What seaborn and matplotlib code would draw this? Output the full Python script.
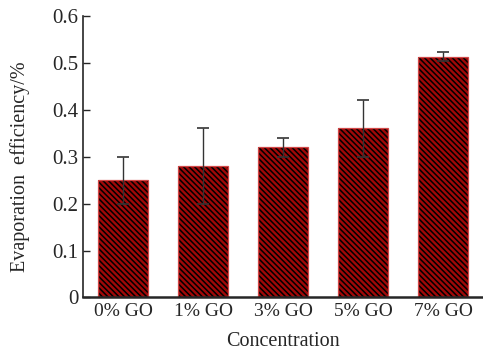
import matplotlib
matplotlib.use("Agg")
import matplotlib.pyplot as plt
import seaborn as sns
import pandas as pd

# data
concentrations = ["0% GO", "1% GO", "3% GO", "5% GO", "7% GO"]
efficiency = [0.25, 0.28, 0.32, 0.36, 0.513]
error = [0.05, 0.08, 0.02, 0.06, 0.01]

df = pd.DataFrame({"Concentration": concentrations, "Efficiency": efficiency})

sns.set_theme(style="ticks")
plt.rcParams["font.family"] = ["Liberation Serif", "DejaVu Serif"]
plt.rcParams["hatch.linewidth"] = 1.1

fig, ax = plt.subplots(figsize=(4.83, 3.52), dpi=100)
# hatched fill: dark red face, black diagonal stripes
sns.barplot(data=df, x="Concentration", y="Efficiency", color="#a00808",
            width=0.625, saturation=1, ax=ax, errorbar=None,
            hatch="\\" * 6, edgecolor="black", linewidth=0)
# red outline on top
sns.barplot(data=df, x="Concentration", y="Efficiency", color="#d04848",
            width=0.625, saturation=1, ax=ax, errorbar=None,
            fill=False, linewidth=0.9)

ax.errorbar(range(len(efficiency)), efficiency, yerr=error, fmt="none",
            ecolor="#333333", elinewidth=1, capsize=4, capthick=1.2)

ax.set_xlim(-0.5, 4.5)
ax.set_ylim(0, 0.6)
ax.set_yticks([0, 0.1, 0.2, 0.3, 0.4, 0.5, 0.6])
ax.set_yticklabels(["0", "0.1", "0.2", "0.3", "0.4", "0.5", "0.6"])
ax.tick_params(axis="y", direction="in", length=5, labelsize=15, width=1)
ax.tick_params(axis="x", length=0, labelsize=14, pad=4)
sns.despine(ax=ax)
ax.spines["left"].set_linewidth(1.2)
ax.spines["bottom"].set_linewidth(1.8)

ax.set_xlabel("Concentration", fontsize=14.5, labelpad=9)
ax.set_ylabel("Evaporation  efficiency/%", fontsize=14.5)
ax.yaxis.set_label_coords(-0.132, 0.463)

fig.subplots_adjust(left=0.172, right=1.0, top=0.955, bottom=0.155)
fig.savefig("out.png", dpi=100)
